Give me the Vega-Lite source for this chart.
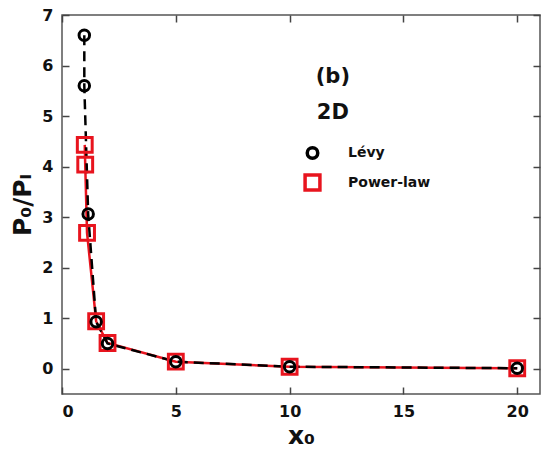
{
  "$schema": "https://vega.github.io/schema/vega-lite/v6.json",
  "width": 478,
  "height": 379,
  "autosize": {"type": "none"},
  "padding": {"left": 62, "top": 15, "right": 1, "bottom": 63},
  "config": {
    "font": "DejaVu Sans",
    "view": {"stroke": "#555", "strokeWidth": 1.5},
    "axis": {"labelFont": "DejaVu Sans", "labelFontWeight": "bold", "labelFontSize": 16, "labelColor": "#111", "titleFont": "DejaVu Sans", "titleFontWeight": "bold", "titleFontSize": 25, "titleColor": "#111", "grid": false, "domain": false, "tickColor": "#444", "tickWidth": 1.5, "tickSize": 7, "offset": -7}
  },
  "datasets": {
    "pts": [
      {"series": "Power-law", "k": 1, "x": 1.0, "y": 4.43},
      {"series": "Power-law", "k": 2, "x": 1.02, "y": 4.04},
      {"series": "Power-law", "k": 3, "x": 1.1, "y": 2.69},
      {"series": "Power-law", "k": 4, "x": 1.5, "y": 0.94},
      {"series": "Power-law", "k": 5, "x": 2.0, "y": 0.51},
      {"series": "Power-law", "k": 6, "x": 5.0, "y": 0.14},
      {"series": "Power-law", "k": 7, "x": 10.0, "y": 0.04},
      {"series": "Power-law", "k": 8, "x": 20.0, "y": 0.01},
      {"series": "Lévy", "k": 1, "x": 0.98, "y": 6.6},
      {"series": "Lévy", "k": 2, "x": 0.98, "y": 5.6},
      {"series": "Lévy", "k": 3, "x": 1.15, "y": 3.06},
      {"series": "Lévy", "k": 4, "x": 1.5, "y": 0.93},
      {"series": "Lévy", "k": 5, "x": 2.0, "y": 0.5},
      {"series": "Lévy", "k": 6, "x": 5.0, "y": 0.14},
      {"series": "Lévy", "k": 7, "x": 10.0, "y": 0.04},
      {"series": "Lévy", "k": 8, "x": 20.0, "y": 0.01}
    ],
    "notes": [
      {"label": "(b)", "x": 11.9, "y": 5.78},
      {"label": "2D", "x": 11.9, "y": 5.06}
    ]
  },
  "resolve": {"axis": {"x": "independent", "y": "independent"}},
  "layer": [
    {
      "data": {"name": "pts"},
      "transform": [{"filter": "datum.series === 'Power-law'"}],
      "mark": {"type": "line", "color": "#e8141e", "strokeWidth": 2.5},
      "encoding": {
        "x": {"field": "x", "type": "quantitative", "scale": {"domain": [0, 21], "nice": false, "zero": false, "padding": 0},
              "axis": {"orient": "top", "values": [0, 5, 10, 15, 20], "labels": false, "title": null}},
        "y": {"field": "y", "type": "quantitative", "scale": {"domain": [-0.5, 7], "nice": false, "zero": false, "padding": 0},
              "axis": {"orient": "right", "values": [0, 1, 2, 3, 4, 5, 6, 7], "labels": false, "title": null}},
        "order": {"field": "k", "type": "quantitative"}
      }
    },
    {
      "data": {"name": "pts"},
      "transform": [{"filter": "datum.series === 'Lévy'"}],
      "mark": {"type": "line", "color": "#000", "strokeWidth": 2.5, "strokeDash": [10, 6]},
      "encoding": {
        "x": {"field": "x", "type": "quantitative", "axis": {"orient": "bottom", "values": [0, 5, 10, 15, 20], "title": "x₀", "labelPadding": 9, "titlePadding": 4}},
        "y": {"field": "y", "type": "quantitative", "axis": {"orient": "left", "values": [0, 1, 2, 3, 4, 5, 6, 7], "title": "P₀/Pₗ", "labelPadding": 9, "titlePadding": 6}},
        "order": {"field": "k", "type": "quantitative"}
      }
    },
    {
      "data": {"name": "pts"},
      "mark": {"type": "point", "filled": false, "strokeWidth": 3, "opacity": 1},
      "encoding": {
        "x": {"field": "x", "type": "quantitative", "axis": null},
        "y": {"field": "y", "type": "quantitative", "axis": null},
        "color": {"field": "series", "type": "nominal", "scale": {"domain": ["Lévy", "Power-law"], "range": ["#000000", "#e8141e"]},
                  "legend": {"title": null, "orient": "none", "legendX": 241, "legendY": 131, "labelFontSize": 14, "labelFontWeight": "bold", "labelColor": "#111", "labelOffset": 26, "rowPadding": 2, "symbolStrokeWidth": 3.5, "symbolSize": 150}},
        "shape": {"field": "series", "type": "nominal", "scale": {"domain": ["Lévy", "Power-law"], "range": ["circle", "square"]}},
        "size": {"field": "series", "type": "nominal", "scale": {"domain": ["Lévy", "Power-law"], "range": [110, 220]}, "legend": null}
      }
    },
    {
      "data": {"name": "notes"},
      "mark": {"type": "text", "fontSize": 21, "fontWeight": "bold", "color": "#111", "align": "center", "baseline": "middle"},
      "encoding": {
        "x": {"field": "x", "type": "quantitative", "axis": null},
        "y": {"field": "y", "type": "quantitative", "axis": null},
        "text": {"field": "label"}
      }
    }
  ]
}
